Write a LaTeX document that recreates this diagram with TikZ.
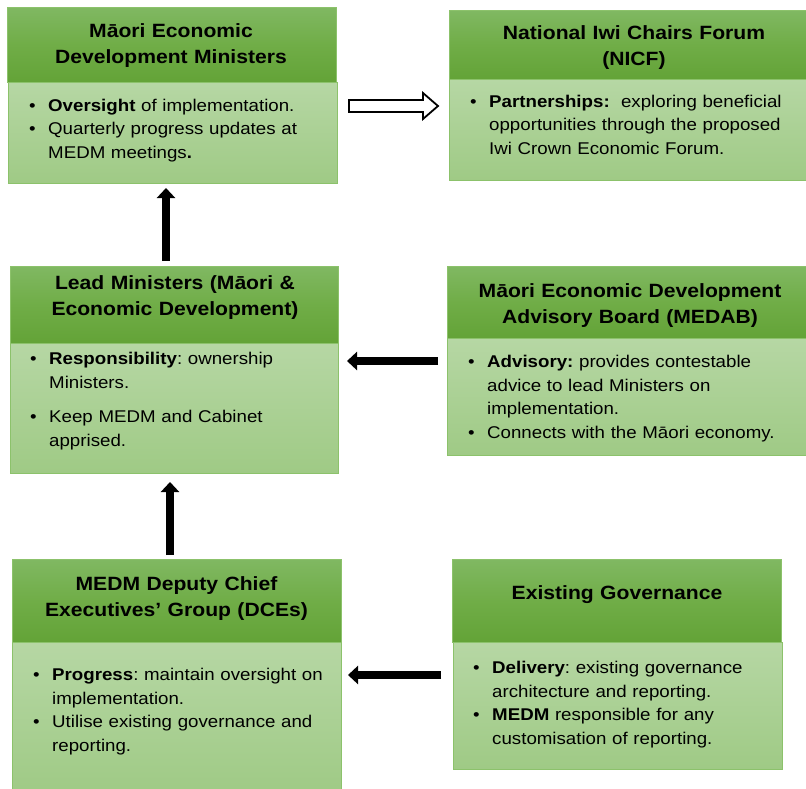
\documentclass[tikz,border=0pt]{standalone}
\usepackage{fontspec}
\setmainfont{Liberation Sans}[FakeStretch=1.1]
\usetikzlibrary{arrows.meta,calc}

\definecolor{hdtop}{HTML}{80B862}
\definecolor{hdmid}{HTML}{70AD47}
\definecolor{hdbot}{HTML}{63A337}
\definecolor{bdtop}{HTML}{B6D7A4}
\definecolor{bdbot}{HTML}{9FCA85}
\definecolor{edgegreen}{HTML}{8CC26B}

% no hyphenation, single spaces after punctuation
\hyphenpenalty=10000
\exhyphenpenalty=10000
\frenchspacing

% one bulleted paragraph with a hanging indent
\newcommand\bitem[1]{\par\noindent\hangindent=19pt\hangafter=1\makebox[19pt][l]{\textbullet}#1\par}

\begin{document}
\begin{tikzpicture}[x=1pt,y=-1pt,
  panel/.style={anchor=north west, inner sep=0pt, draw=edgegreen, line width=0.9pt},
  headpanel/.style={panel, top color=hdtop, bottom color=hdbot, middle color=hdmid},
  bodypanel/.style={panel, top color=bdtop, bottom color=bdbot},
  headtext/.style={anchor=base, align=center, inner sep=0pt, text width=330pt,
    font=\fontsize{19.2}{26}\selectfont\bfseries},
  bodytext/.style={anchor=base west, align=left, inner sep=0pt,
    font=\fontsize{17}{23.5}\selectfont},
  flow/.style={line width=8pt, -{Triangle[length=10pt 0, width=18pt 0]}},
  hollow/.style={draw=black, fill=white, line width=1.8pt, line join=miter},
]
\path[use as bounding box] (0,0) rectangle (806,789);
\clip (0,0) rectangle (806,789);

% ---- panels: header strip + body ----
\node[bodypanel, minimum width=329pt, minimum height=101pt] (b1) at (8,82) {};
\node[headpanel, minimum width=329pt, minimum height=75pt] (h1) at (7,7) {};

\node[bodypanel, minimum width=363pt, minimum height=101pt] (b2) at (449,79) {};
\node[headpanel, minimum width=363pt, minimum height=69pt] (h2) at (449,10) {};

\node[bodypanel, minimum width=328pt, minimum height=130pt] (b3) at (10,343) {};
\node[headpanel, minimum width=328pt, minimum height=77pt] (h3) at (10,266) {};

\node[bodypanel, minimum width=365pt, minimum height=117pt] (b4) at (447,338) {};
\node[headpanel, minimum width=365pt, minimum height=72pt] (h4) at (447,266) {};

\node[bodypanel, minimum width=329pt, minimum height=152pt] (b5) at (12,642) {};
\node[headpanel, minimum width=329pt, minimum height=83pt] (h5) at (12,559) {};

\node[bodypanel, minimum width=329pt, minimum height=127pt] (b6) at (453,642) {};
\node[headpanel, minimum width=329pt, minimum height=83pt] (h6) at (452,559) {};

% ---- titles ----
\node[headtext] (t1) at (171,38) {Māori Economic\\Development Ministers};
\node[headtext] (t2) at (634,40) {National Iwi Chairs Forum\\(NICF)};
\node[headtext] (t3) at (175,289) {Lead Ministers (Māori \&\\Economic Development)};
\node[headtext] (t4) at (630,297) {Māori Economic Development\\Advisory Board (MEDAB)};
\node[headtext] (t5) at (176.5,590) {MEDM Deputy Chief\\Executives’ Group (DCEs)};
\node[headtext] (t6) at (617,599) {Existing Governance};

% ---- bullet text ----
\node[bodytext, text width=293pt] (l1) at (29,88) {%
  \bitem{\textbf{Oversight} of implementation.}%
  \bitem{Quarterly progress updates at MEDM meetings\textbf{.}}};
\node[bodytext, text width=320pt] (l2) at (470,84) {%
  \bitem{\textbf{Partnerships:}~ exploring beneficial opportunities through the proposed Iwi Crown Economic Forum.}};
\node[bodytext, text width=290pt] (l3) at (30,341) {%
  \bitem{\textbf{Responsibility}: ownership Ministers.}\vspace{11pt}%
  \bitem{Keep MEDM and Cabinet apprised.}};
\node[bodytext, text width=322pt] (l4) at (468,344) {%
  \bitem{\textbf{Advisory:} provides contestable advice to lead Ministers on implementation.}%
  \bitem{Connects with the Māori economy.}};
\node[bodytext, text width=299pt] (l5) at (33,657) {%
  \bitem{\textbf{Progress}: maintain oversight on implementation.}%
  \bitem{Utilise existing governance and reporting.}};
\node[bodytext, text width=292pt] (l6) at (473,650) {%
  \bitem{\textbf{Delivery}: existing governance architecture and reporting.}%
  \bitem{\textbf{MEDM} responsible for any customisation of reporting.}};

% ---- connectors ----
\coordinate (u1s) at (166,261);
\coordinate (u1e) at (166,188);
\coordinate (u2s) at (170,555);
\coordinate (u2e) at (170,482);
\coordinate (m1s) at (438,361);
\coordinate (m1e) at (347,361);
\coordinate (m2s) at (441,675);
\coordinate (m2e) at (348,675);
\draw[flow] (u1s) -- (u1e);
\draw[flow] (u2s) -- (u2e);
\draw[flow] (m1s) -- (m1e);
\draw[flow] (m2s) -- (m2e);

% open block arrow towards the forum
\draw[hollow] (349,100) -- (423,100) -- (423,93) -- (438,106)
  -- (423,119) -- (423,112) -- (349,112) -- cycle;
\end{tikzpicture}
\end{document}
